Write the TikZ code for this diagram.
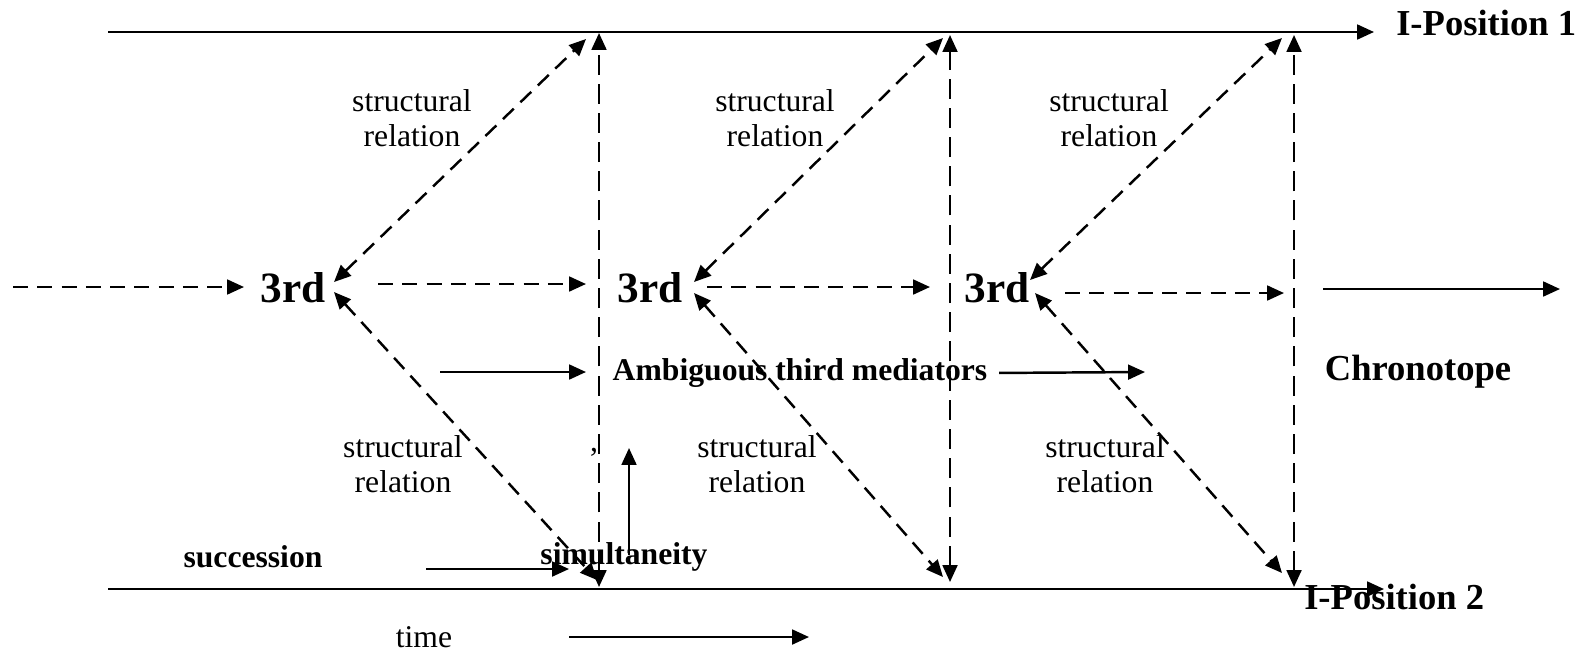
\documentclass[tikz,border=0pt]{standalone}
\usepackage{fontspec}
\setmainfont{Liberation Serif}
\usetikzlibrary{arrows.meta}

\begin{document}
\begin{tikzpicture}[x=0.01cm,y=-0.01cm,line width=0.7pt,
>={Triangle[length=4.8pt,width=4.2pt]},
dsh/.style={dash pattern=on 4.3pt off 2.6pt},
vdsh/.style={dash pattern=on 5.7pt off 2.6pt},
lab/.style={align=center,inner sep=0pt,font=\fontsize{9pt}{10pt}\selectfont},
blab/.style={align=center,inner sep=0pt,font=\fontsize{9pt}{10pt}\selectfont\bfseries},
big/.style={inner sep=0pt,font=\fontsize{10.4pt}{12pt}\selectfont\bfseries},
third/.style={inner sep=0pt,font=\fontsize{12.3pt}{14pt}\selectfont\bfseries}]
\useasboundingbox (0,0) rectangle (1589,654);

% the two I-positions
\coordinate (top0) at (108,32);
\coordinate (top1) at (1374,32);
\coordinate (bot0) at (108,589);
\coordinate (bot1) at (1384,589);
\draw[->] (top0)--(top1);
\draw[->] (bot0)--(bot1);
\node[big,anchor=west] (ipos1) at (1395,23) {I-Position 1};
\node[big,anchor=west] (ipos2) at (1303,597) {I-Position 2};

% simultaneity lines
\coordinate (v1t) at (599,33);
\coordinate (v1b) at (599,587);
\coordinate (v2t) at (950,35);
\coordinate (v2b) at (950,582);
\coordinate (v3t) at (1294,35);
\coordinate (v3b) at (1294,587);
\draw[vdsh,<->] (v1b)--(v1t);
\draw[vdsh,<->] (v2b)--(v2t);
\draw[vdsh,<->] (v3b)--(v3t);

% thirds
\node[third] (th1) at (293,288) {3rd};
\node[third] (th2) at (650,288) {3rd};
\node[third] (th3) at (997,288) {3rd};

% structural relations
\coordinate (u1a) at (334,282);
\coordinate (u1b) at (586,39);
\coordinate (d1a) at (334,292);
\coordinate (d1b) at (597,580);
\coordinate (u2a) at (694,282);
\coordinate (u2b) at (943,38);
\coordinate (d2a) at (694,293);
\coordinate (d2b) at (943,577);
\coordinate (u3a) at (1030,280);
\coordinate (u3b) at (1282,38);
\coordinate (d3a) at (1035,293);
\coordinate (d3b) at (1282,573);
\draw[dsh,<->] (u1a)--(u1b);
\draw[dsh,<->] (d1a)--(d1b);
\draw[dsh,<->] (u2a)--(u2b);
\draw[dsh,<->] (d2a)--(d2b);
\draw[dsh,<->] (u3a)--(u3b);
\draw[dsh,<->] (d3a)--(d3b);
\node[lab] (sr1) at (412,118) {structural\\relation};
\node[lab] (sr2) at (775,118) {structural\\relation};
\node[lab] (sr3) at (1109,118) {structural\\relation};
\node[lab] (sr4) at (403,464) {structural\\relation};
\node[lab] (sr5) at (757,464) {structural\\relation};
\node[lab] (sr6) at (1105,464) {structural\\relation};

% flow of thirds
\coordinate (h0a) at (13,287);
\coordinate (h0b) at (244,287);
\coordinate (h1a) at (378,284);
\coordinate (h1b) at (586,284);
\coordinate (h2a) at (707,287);
\coordinate (h2b) at (930,287);
\coordinate (h3a) at (1065,293);
\coordinate (h3b) at (1284,293);
\coordinate (h4a) at (1323,289);
\coordinate (h4b) at (1560,289);
\draw[dsh,->] (h0a)--(h0b);
\draw[dsh,->] (h1a)--(h1b);
\draw[dsh,->] (h2a)--(h2b);
\draw[dsh,->] (h3a)--(h3b);
\draw[->] (h4a)--(h4b);

\node[blab] (amb) at (800,373) {Ambiguous third mediators};
\coordinate (a0) at (440,372);
\coordinate (a1) at (586,372);
\coordinate (a2) at (1145,372);
\draw[->] (a0)--(a1);
\draw[->,shorten <=3pt] (amb.east)--(a2);
\node[big] (chrono) at (1418,372) {Chronotope};

% time
\node[lab] (comma) at (594,452) {,};
\coordinate (up0) at (629,555);
\coordinate (up1) at (629,448);
\draw[->] (up0)--(up1);
\node[blab] (succ) at (253,557) {succession};
\coordinate (s0) at (426,569);
\coordinate (s1) at (569,569);
\draw[->] (s0)--(s1);
\node[blab] (simul) at (624,557) {simultaneity};
\node[lab] (time) at (424,637) {time};
\coordinate (t0) at (569,637);
\coordinate (t1) at (809,637);
\draw[->] (t0)--(t1);
\end{tikzpicture}
\end{document}
